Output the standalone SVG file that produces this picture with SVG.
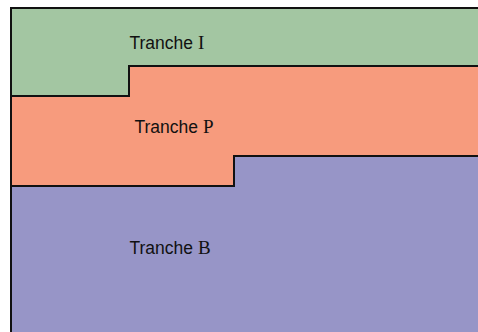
<svg xmlns="http://www.w3.org/2000/svg" width="478" height="332" viewBox="0 0 478 332">
<style>
.t{font-family:"Liberation Sans",Arial,sans-serif;font-size:17.5px;fill:#111}
.m{font-family:"Liberation Serif","Times New Roman",serif;font-size:19px}
.edge{fill:none;stroke:#111;stroke-width:2}
</style>
<rect width="478" height="332" fill="#fff"/>
<g id="tranche-b">
<rect x="11" y="8" width="470" height="330" fill="#9795C7"/>
<text class="t" x="129.5" y="254">Tranche <tspan class="m">B</tspan></text>
</g>
<g id="tranche-p">
<path d="M11 8 H480 V156 H234 V186 H11 Z" fill="#F79B7D"/>
<text class="t" x="134.5" y="132.5">Tranche <tspan class="m">P</tspan></text>
</g>
<g id="tranche-i">
<path d="M11 8 H480 V66 H129 V96 H11 Z" fill="#A3C6A2"/>
<text class="t" x="129.5" y="49">Tranche <tspan class="m">I</tspan></text>
</g>
<g id="connectors">
<path class="edge" d="M11 96 H129 V66 H480"/>
<path class="edge" d="M11 186 H234 V156 H480"/>
<path class="edge" d="M11 340 V8 H480" stroke-width="1.5"/>
</g>
</svg>
